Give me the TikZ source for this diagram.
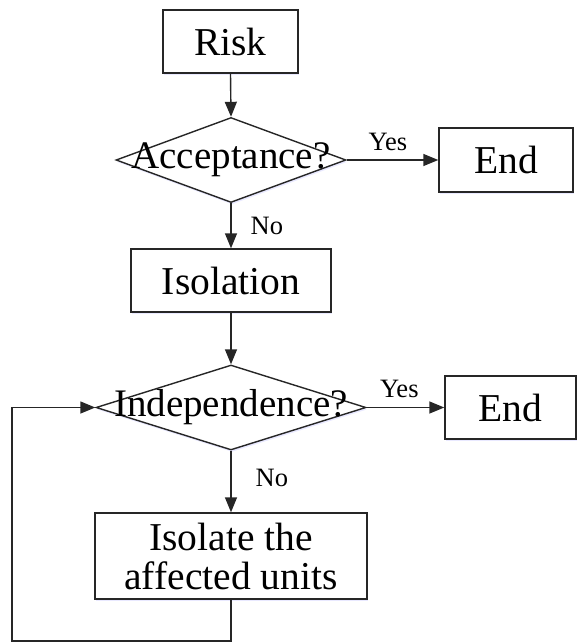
\documentclass[tikz,border=0pt]{standalone}
\usepackage{fontspec}
\setmainfont{Liberation Serif}
\usetikzlibrary{arrows.meta,shapes.geometric,shadows}

\tikzset{
  ln/.style={draw=black!85, line width=1.4pt},
  soft/.style={drop shadow={fill=blue!35!white, opacity=0.25,
      shadow xshift=1pt, shadow yshift=-2pt}},
  procbox/.style={ln, rectangle, fill=white, soft, inner sep=0pt,
      align=center, font=\fontsize{39.5pt}{39pt}\selectfont},
  decision/.style={ln, diamond, fill=white, soft, inner sep=0pt},
  dtext/.style={inner sep=0pt, font=\fontsize{39pt}{40pt}\selectfont},
  lbl/.style={inner sep=0pt, font=\fontsize{26.5pt}{28pt}\selectfont},
  flow/.style={ln, -{Triangle[length=15pt,width=12pt]}},
}

\begin{document}
\begin{tikzpicture}[x=1pt,y=-1pt]
  \useasboundingbox (0,0) rectangle (577,643);

  % process boxes
  \node[procbox, minimum width=135pt, minimum height=63pt] (risk) at (230.5,41.5) {Risk};
  \node[procbox, minimum width=200pt, minimum height=63pt] (isol) at (231,280.5) {Isolation};
  \node[procbox, minimum width=272pt, minimum height=86pt] (units) at (231,556)
       {Isolate the\\affected units};
  \node[procbox, minimum width=134pt, minimum height=64pt] (end1) at (506,160) {End};
  \node[procbox, minimum width=131pt, minimum height=63pt] (end2) at (510.5,407.5) {End};

  % decisions: the outline is drawn first, the question is laid over it
  \node[decision, minimum width=230pt, minimum height=85pt] (acc) at (231,160) {};
  \node[dtext] (acct) at (acc) {Acceptance?};
  \node[decision, minimum width=270pt, minimum height=85pt] (ind) at (231,407.5) {};
  \node[dtext] (indt) at (ind) {Independence?};

  % connectors
  \draw[flow] (risk.south) -- (acc.north);
  \draw[flow] (acc.east) -- node[lbl, pos=0.45, above=9pt] (y1) {Yes} (end1.west);
  \draw[flow] (acc.south) -- node[lbl, right=19pt] (n1) {No} (isol.north);
  \draw[flow] (isol.south) -- (ind.north);
  \draw[flow] (ind.east) -- node[lbl, pos=0.42, above=9pt] (y2) {Yes} (end2.west);
  \draw[flow] (ind.south) -- node[lbl, right=24pt, pos=0.45] (n2) {No} (units.north);

  % loop back from the affected units to the independence check
  \coordinate (bl) at (12,641);
  \draw[flow] (units.south) |- (bl) |- (ind.west);
\end{tikzpicture}
\end{document}
